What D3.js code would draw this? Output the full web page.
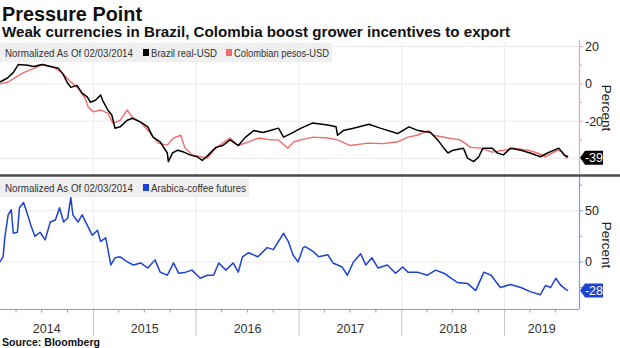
<!DOCTYPE html>
<html><head><meta charset="utf-8">
<script src="https://cdn.jsdelivr.net/npm/d3@7"></script>
<style>
body{margin:0;background:#fff;}
svg{display:block;font-family:"Liberation Sans Narrow","Liberation Sans",Arial,sans-serif;}
</style>
</head><body>
<svg id="chart" width="620" height="348"></svg>
<script>
// ---------- DATA ----------
const titleText = "Pressure Point";
const subtitleText = "Weak currencies in Brazil, Colombia boost grower incentives to export";
const sourceText = "Source: Bloomberg";
const normText = "Normalized As Of 02/03/2014";
const seriesNames = ["Brazil real-USD", "Colombian pesos-USD", "Arabica-coffee futures"];
const yearLabels = [2014, 2015, 2016, 2017, 2018, 2019];
const topTicks = [20, 0, -20];
const topMinorTicks = [10, -10, -30];
const bottomTicks = [50, 0];
const bottomMinorTicks = [75, 25, -25];
const topGrid = [20, 0, -20, -40];
const bottomGrid = [50, 0];

// time in decimal years, values in percent
const brazilTime = [2014.09,2014.16,2014.22,2014.27,2014.36,2014.42,2014.50,2014.58,2014.66,2014.70,2014.75,2014.78,2014.84,2014.89,2014.94,2014.97,2015.02,2015.07,2015.09,2015.14,2015.18,2015.21,2015.26,2015.33,2015.38,2015.46,2015.53,2015.58,2015.65,2015.72,2015.73,2015.77,2015.82,2015.88,2015.94,2016.01,2016.06,2016.12,2016.19,2016.26,2016.33,2016.41,2016.48,2016.56,2016.65,2016.72,2016.80,2016.85,2016.92,2017.02,2017.13,2017.28,2017.36,2017.375,2017.43,2017.53,2017.68,2017.79,2017.96,2018.07,2018.16,2018.28,2018.35,2018.41,2018.45,2018.50,2018.60,2018.64,2018.70,2018.75,2018.79,2018.88,2018.93,2018.99,2019.06,2019.16,2019.25,2019.35,2019.42,2019.53,2019.58,2019.62];
const brazilValues = [1,3,6,10.4,10,9.3,10.4,9.3,8.3,5.6,0.3,-1.9,-0.8,-5,-7,-9.8,-8.8,-6,-8.8,-14,-16.8,-23.7,-23,-19.5,-18.4,-20.5,-23,-28.5,-31,-37,-41.6,-37,-35.5,-36.5,-38,-39,-41,-38,-34,-33,-30,-33,-28.5,-25,-26,-25,-23.7,-28.5,-26.6,-23.7,-21,-22,-23,-27.5,-25,-23.7,-21.6,-23.7,-26.6,-23,-25,-26,-30,-34.4,-37,-35.5,-34.4,-39.7,-41.6,-39,-34.4,-34.4,-37,-38,-34.4,-35.5,-37,-39,-37,-34.4,-38,-39];

const colombiaTime = [2014.09,2014.17,2014.24,2014.32,2014.42,2014.51,2014.61,2014.70,2014.78,2014.85,2014.92,2014.95,2015.00,2015.07,2015.14,2015.19,2015.26,2015.33,2015.38,2015.46,2015.55,2015.63,2015.72,2015.78,2015.85,2015.89,2015.96,2016.04,2016.11,2016.17,2016.26,2016.33,2016.41,2016.51,2016.61,2016.72,2016.80,2016.89,2016.95,2017.02,2017.14,2017.28,2017.375,2017.50,2017.67,2017.82,2017.96,2018.06,2018.15,2018.26,2018.31,2018.45,2018.57,2018.67,2018.77,2018.88,2018.99,2019.09,2019.23,2019.32,2019.40,2019.52,2019.57,2019.60,2019.62];
const colombiaValues = [0,1,3.5,6,8.3,10.4,9,5.6,1,-2.4,-7.7,-12.5,-15,-14,-15.7,-21,-19.5,-14,-18,-20.5,-26,-31.7,-32.8,-29,-27.5,-34,-38,-39,-39.7,-35.5,-31.7,-29,-33,-31,-29,-30,-30,-34.4,-31,-30,-28.5,-29,-30,-33,-31.7,-32,-31,-28.5,-27.5,-25,-27.5,-29,-30,-34,-34.4,-36.5,-35.5,-34.4,-35.5,-37,-39,-35.5,-36.5,-39.7,-39];

const arabicaTime = [2014.09,2014.12,2014.14,2014.17,2014.20,2014.22,2014.26,2014.28,2014.32,2014.35,2014.39,2014.43,2014.48,2014.53,2014.58,2014.63,2014.67,2014.71,2014.75,2014.78,2014.80,2014.85,2014.89,2014.94,2014.99,2015.04,2015.07,2015.12,2015.17,2015.21,2015.26,2015.33,2015.39,2015.46,2015.53,2015.60,2015.65,2015.72,2015.78,2015.83,2015.90,2015.96,2016.04,2016.11,2016.17,2016.22,2016.29,2016.36,2016.41,2016.45,2016.51,2016.60,2016.69,2016.75,2016.85,2016.90,2016.94,2016.99,2017.04,2017.06,2017.14,2017.19,2017.28,2017.33,2017.42,2017.47,2017.53,2017.60,2017.65,2017.71,2017.77,2017.86,2017.94,2018.01,2018.06,2018.15,2018.25,2018.33,2018.41,2018.54,2018.64,2018.72,2018.80,2018.87,2018.96,2019.06,2019.16,2019.25,2019.35,2019.40,2019.45,2019.50,2019.55,2019.60,2019.62];
const arabicaValues = [0,5,26,46,51,28,29,53,58,49,36,25,29,21.5,39,41,53,39,43,63,46,39,46,36,26,31,20,23.5,-3,4,5,0,-3,-1,-6,2,-10,-13,-1,-11,-10,-8,-16,-13,-13,-1,-8,-1,-10,5,9,5,14,12,28,19,7,0,14,15,10,5,7,-1,-5,-13,0,8,-3,4,-6,-3,-11,-5,-10,-10,-13,-8,-11,-20,-21,-28,-10,-13,-25,-22,-25,-29,-32,-23,-25,-16,-23,-27,-28];

const brazilLast = -39;
const arabicaLast = -28;

// ---------- STYLE ----------
const C = {black:"#000000", pink:"#f26b6b", blue:"#1d43d3", pinkAxis:"#f2a3a3", blueAxis:"#7f9be3",
           grid:"#ebebeb", axis:"#9a9a9a", text:"#222", legendBg:"#efefef", sep:"#4a4a4a"};

function toDate(t){ const y=Math.floor(t); const s=new Date(y,0,1), e=new Date(y+1,0,1); return new Date(+s + (t-y)*(e-s)); }
const zip = (ts, vs) => ts.map((t,i)=>({d:toDate(t), v:vs[i]}));
const brazil = zip(brazilTime, brazilValues);
const colombia = zip(colombiaTime, colombiaValues);
const arabica = zip(arabicaTime, arabicaValues);

const svg = d3.select("#chart");
const W = 579;
const x = d3.scaleTime().domain([new Date(2014,1,3), new Date(2019,8,23)]).range([0, W]);
const yTop = d3.scaleLinear().domain([-47.7, 22.4]).range([173, 42]);
const yBot = d3.scaleLinear().domain([-46, 82]).range([309, 178]);

// title
svg.append("text").attr("x",2).attr("y",21).attr("font-family","'Liberation Sans',Arial,sans-serif")
  .attr("font-weight","bold").attr("font-size",21).attr("fill","#111").text(titleText)
  .attr("textLength",140).attr("lengthAdjust","spacingAndGlyphs");
svg.append("text").attr("x",2).attr("y",37).attr("font-family","'Liberation Sans',Arial,sans-serif")
  .attr("font-weight","bold").attr("font-size",14.5).attr("fill","#111").text(subtitleText)
  .attr("textLength",508).attr("lengthAdjust","spacingAndGlyphs");

// year boundaries
const yearStarts = d3.range(2015, 2020).map(y=>new Date(y,0,1));
const g = svg.append("g");
yearStarts.forEach(d=>{
  g.append("line").attr("x1",x(d)).attr("x2",x(d)).attr("y1",42).attr("y2",309).attr("stroke",C.grid).attr("stroke-width",1);
  g.append("line").attr("x1",x(d)).attr("x2",x(d)).attr("y1",309).attr("y2",336).attr("stroke","#c4c4c4").attr("stroke-width",1);
});
topGrid.forEach(v=>g.append("line").attr("x1",0).attr("x2",W).attr("y1",yTop(v)).attr("y2",yTop(v)).attr("stroke",C.grid));
bottomGrid.forEach(v=>g.append("line").attr("x1",0).attr("x2",W).attr("y1",yBot(v)).attr("y2",yBot(v)).attr("stroke",C.grid));

// lines
const lineTop = d3.line().x(d=>x(d.d)).y(d=>yTop(d.v));
const lineBot = d3.line().x(d=>x(d.d)).y(d=>yBot(d.v));
svg.append("path").datum(colombia).attr("d",lineTop).attr("fill","none").attr("stroke",C.pink).attr("stroke-width",1.4).attr("stroke-linejoin","round");
svg.append("path").datum(brazil).attr("d",lineTop).attr("fill","none").attr("stroke",C.black).attr("stroke-width",1.5).attr("stroke-linejoin","round");
svg.append("path").datum(arabica).attr("d",lineBot).attr("fill","none").attr("stroke",C.blue).attr("stroke-width",1.5).attr("stroke-linejoin","round");

// legends
function legend(y0, w, items){
  const lg = svg.append("g");
  lg.append("rect").attr("x",0).attr("y",y0).attr("width",w).attr("height",19).attr("fill",C.legendBg);
  lg.append("text").attr("x",5).attr("y",y0+13.5).attr("font-size",11.5).attr("fill","#333").text(normText)
    .attr("textLength",128).attr("lengthAdjust","spacingAndGlyphs");
  items.forEach(it=>{
    lg.append("rect").attr("x",it.x).attr("y",y0+6).attr("width",6).attr("height",7).attr("fill",it.c);
    lg.append("text").attr("x",it.x+8).attr("y",y0+13.5).attr("font-size",11.5).attr("fill","#333").text(it.t)
      .attr("textLength",it.w).attr("lengthAdjust","spacingAndGlyphs");
  });
}
legend(43, 332, [{x:143,c:C.black,t:seriesNames[0],w:66},{x:226,c:C.pink,t:seriesNames[1],w:95}]);
legend(178, 249, [{x:143,c:C.blue,t:seriesNames[2],w:95}]);

// separator
svg.append("line").attr("x1",0).attr("x2",620).attr("y1",175.5).attr("y2",175.5).attr("stroke",C.sep).attr("stroke-width",2.5);

// right axes
function rightAxis(scale, y1, y2, color, major, minor, label, labelY){
  const a = svg.append("g");
  a.append("line").attr("x1",W+0.5).attr("x2",W+0.5).attr("y1",y1).attr("y2",y2).attr("stroke",color).attr("stroke-width",1.2);
  major.forEach(v=>{
    a.append("line").attr("x1",W).attr("x2",W+4).attr("y1",scale(v)).attr("y2",scale(v)).attr("stroke",color);
    a.append("text").attr("x",W+6).attr("y",scale(v)+4.5).attr("font-size",12.5).attr("fill",C.text).text(v);
  });
  minor.forEach(v=>a.append("line").attr("x1",W).attr("x2",W+3).attr("y1",scale(v)).attr("y2",scale(v)).attr("stroke",color));
  a.append("text").attr("transform",`translate(602,${labelY}) rotate(90)`).attr("text-anchor","middle")
    .attr("font-size",13.5).attr("fill",C.text).text(label);
}
rightAxis(yTop, 40, 174, C.pinkAxis, topTicks, topMinorTicks, "Percent", 108);
rightAxis(yBot, 177, 309, C.blueAxis, bottomTicks, bottomMinorTicks, "Percent", 245);

// value tags
function tag(yv, fill, txt){
  const h = 7;
  svg.append("path").attr("d",`M${W+1},${yv} L${W+6},${yv-h} L${W+24},${yv-h} L${W+24},${yv+h} L${W+6},${yv+h} Z`).attr("fill",fill);
  svg.append("text").attr("x",W+15).attr("y",yv+4.5).attr("text-anchor","middle").attr("font-size",12.5).attr("fill","#fff").text(txt);
}
tag(yTop(brazilLast)+1, "#000", brazilLast);
tag(yBot(arabicaLast), C.blue, arabicaLast);

// x axis
const xa = svg.append("g");
xa.append("line").attr("x1",0).attr("x2",W).attr("y1",309.5).attr("y2",309.5).attr("stroke",C.axis);
const quarters = d3.timeMonth.every(3).range(new Date(2014,1,3), x.domain()[1]).filter(d=>d.getMonth()!==0);
quarters.forEach(d=>xa.append("line").attr("x1",x(d)).attr("x2",x(d)).attr("y1",309.5).attr("y2",312.5).attr("stroke",C.axis));
yearLabels.forEach(yr=>{
  const a = Math.max(0, x(new Date(yr,0,1))), b = Math.min(W, x(new Date(yr+1,0,1)));
  xa.append("text").attr("x",(a+b)/2).attr("y",333).attr("text-anchor","middle").attr("font-size",12.5).attr("fill","#333").text(yr);
});

// source
svg.append("text").attr("x",2).attr("y",346).attr("font-family","'Liberation Sans',Arial,sans-serif")
  .attr("font-weight","bold").attr("font-size",11).attr("fill","#111").text(sourceText)
  .attr("textLength",98).attr("lengthAdjust","spacingAndGlyphs");
</script>
</body></html>
